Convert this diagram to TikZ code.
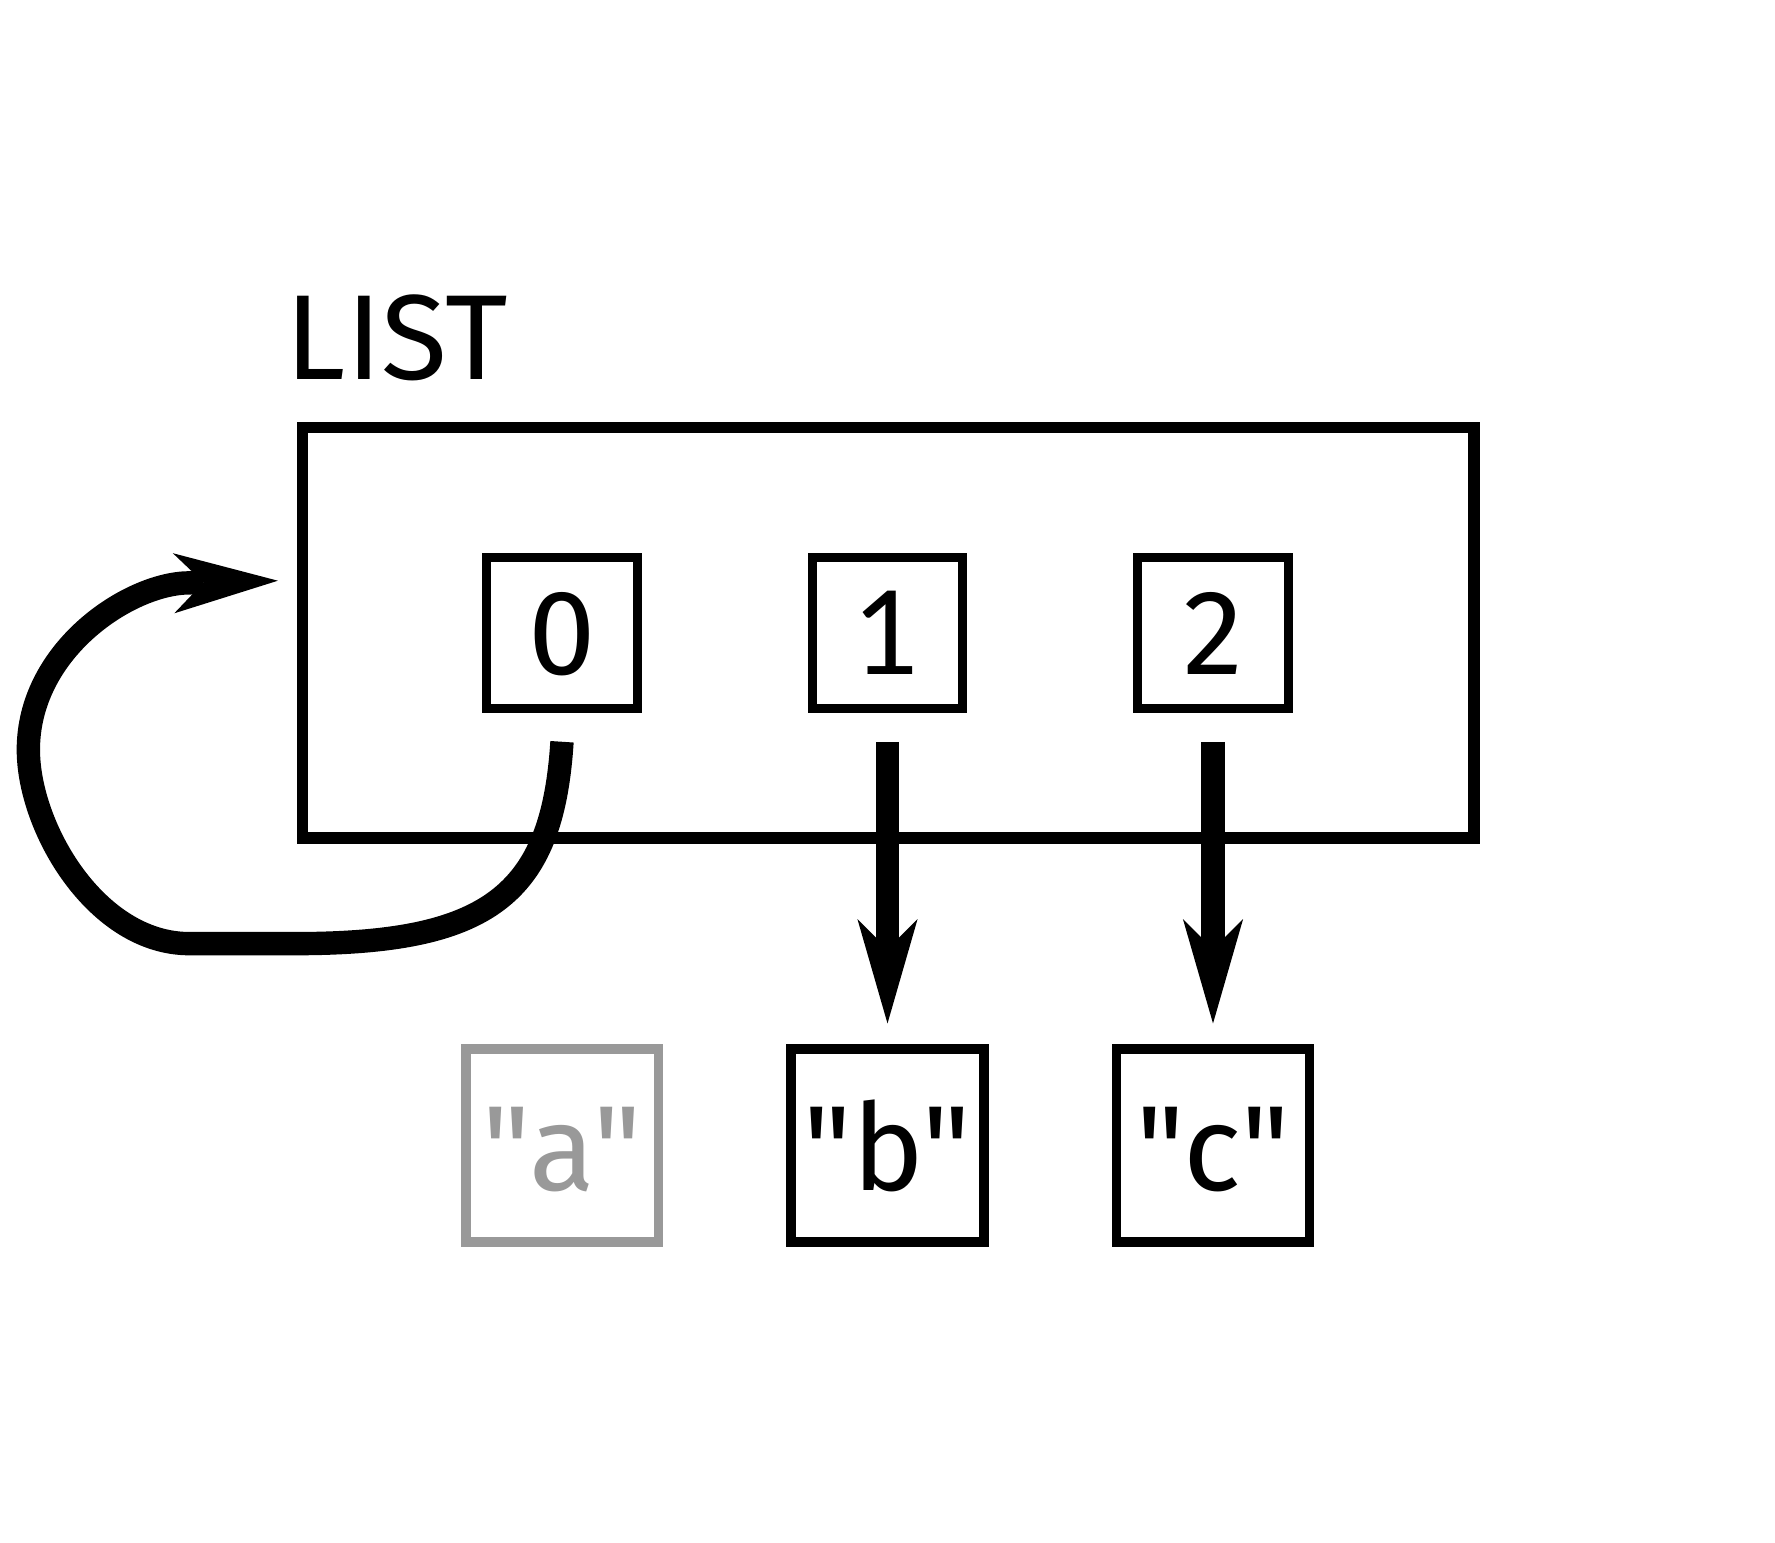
\documentclass[tikz,border=0pt]{standalone}
\usepackage{fontspec}
\setmainfont{Fira Sans}[Ligatures=TeXOff]
\newfontfamily\onefont{Lato}
\usetikzlibrary{arrows.meta}
\definecolor{vgray}{HTML}{999999}
\begin{document}
\begin{tikzpicture}[x=0.5pt,y=-0.5pt,
  every node/.style={font=\fontsize{53.3pt}{64pt}\selectfont, inner sep=0pt, outer sep=0pt},
  listbox/.style={draw, line width=5.2pt, minimum width=516.3pt, minimum height=181pt},
  idxbox/.style={draw, line width=4pt, minimum width=66.5pt, minimum height=66.5pt, text height=36.4pt, text depth=0pt},
  valbox/.style={draw, line width=4.2pt, minimum width=85pt, minimum height=85pt, text height=40pt, text depth=0pt},
  ptr/.style={line width=10.3pt, -{Stealth[length=46pt,width=26.5pt,inset=13.25pt,line width=0pt]}},
]
\useasboundingbox (0,0) rectangle (1565,1359.6);
\node[listbox] (list) at (783,558) {};
\node[anchor=base west] (title) at (252,335) {LIST};
\node[idxbox] (i0) at (495.5,558) {0};
\node[idxbox] (i1) at (782.5,558) {\onefont\fontsize{51.2pt}{60pt}\selectfont 1};
\node[idxbox] (i2) at (1069.5,558) {2};
\node[valbox, draw=vgray, text=vgray] (va) at (495.7,1010) {"a"};
\node[valbox] (vb) at (782.5,1010) {"b"};
\node[valbox] (vc) at (1069.5,1010) {"c"};
\draw[ptr] ([yshift=-14.75pt]i1.south) -- ([yshift=11.3pt]vb.north);
\draw[ptr] ([yshift=-14.75pt]i2.south) -- ([yshift=11.3pt]vc.north);
\coordinate (c0) at ([yshift=-14.75pt]i0.south);
\coordinate (tipL) at (245,512);
\draw[ptr] (c0) .. controls (487,790) and (430,832) .. (260,832) -- (167,832)
  .. controls (85,832) and (25,730) .. (25,661)
  .. controls (25,575) and (110,517) .. (163,514) -- (tipL);
\end{tikzpicture}
\end{document}
